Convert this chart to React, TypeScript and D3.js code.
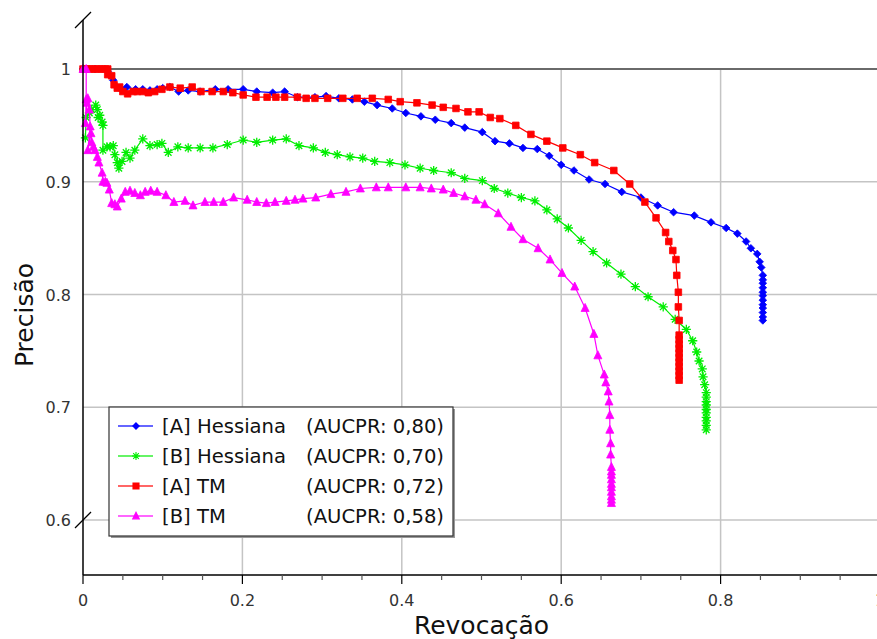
import React from 'react';
import * as d3 from 'd3';

type Pt = [number, number];

const xTickValues = [0, 0.2, 0.4, 0.6, 0.8, 1];
const xTickLabels = ['0', '0.2', '0.4', '0.6', '0.8', '1'];
const yTickValues = [1, 0.9, 0.8, 0.7, 0.6];
const yTickLabels = ['1', '0.9', '0.8', '0.7', '0.6'];
const xMinorTicks = d3.range(0, 21).map((i) => i * 0.05);

const seriesNames = ['[A] Hessiana', '[B] Hessiana', '[A] TM', '[B] TM'];
const seriesAuc = ['(AUCPR: 0,80)', '(AUCPR: 0,70)', '(AUCPR: 0,72)', '(AUCPR: 0,58)'];
const seriesColors = ['#0000ff', '#00ee00', '#ff0000', '#ff00ff'];
const seriesMarkers = ['diamond', 'asterisk', 'square', 'triangle'];

const hessianaA: Pt[] = [
  [0, 1], [0.015, 1], [0.031, 0.998], [0.038, 0.99], [0.046, 0.983], [0.055, 0.984], [0.066, 0.982],
  [0.075, 0.982], [0.084, 0.981], [0.093, 0.982], [0.1, 0.983], [0.109, 0.984], [0.12, 0.98],
  [0.132, 0.981], [0.147, 0.98], [0.166, 0.982], [0.182, 0.982], [0.201, 0.982], [0.218, 0.98],
  [0.238, 0.979], [0.253, 0.98], [0.269, 0.975], [0.291, 0.975], [0.305, 0.976], [0.321, 0.974],
  [0.338, 0.973], [0.353, 0.971], [0.369, 0.968], [0.388, 0.965], [0.405, 0.961], [0.424, 0.958],
  [0.442, 0.955], [0.462, 0.952], [0.479, 0.948], [0.501, 0.944], [0.517, 0.936], [0.535, 0.934],
  [0.552, 0.93], [0.57, 0.929], [0.585, 0.923], [0.6, 0.915], [0.616, 0.91], [0.635, 0.902],
  [0.655, 0.898], [0.676, 0.891], [0.7, 0.886], [0.721, 0.879], [0.741, 0.873], [0.767, 0.87],
  [0.788, 0.864], [0.807, 0.859], [0.821, 0.854], [0.832, 0.847], [0.838, 0.841], [0.846, 0.836],
  [0.849, 0.829], [0.851, 0.824], [0.853, 0.817], [0.853, 0.813], [0.853, 0.81], [0.853, 0.806],
  [0.853, 0.802], [0.853, 0.799], [0.853, 0.795], [0.853, 0.791], [0.853, 0.788], [0.853, 0.784],
  [0.853, 0.78], [0.853, 0.777],
];

const hessianaB: Pt[] = [
  [0.003, 0.939], [0.004, 0.957], [0.008, 0.961], [0.011, 0.964], [0.016, 0.968], [0.018, 0.964],
  [0.019, 0.957], [0.021, 0.959], [0.024, 0.953], [0.025, 0.95], [0.025, 0.928], [0.03, 0.931],
  [0.034, 0.931], [0.038, 0.932], [0.04, 0.924], [0.043, 0.917], [0.045, 0.912], [0.049, 0.918],
  [0.054, 0.926], [0.059, 0.921], [0.065, 0.928], [0.075, 0.938], [0.084, 0.932], [0.093, 0.933],
  [0.099, 0.934], [0.107, 0.926], [0.119, 0.931], [0.132, 0.93], [0.147, 0.93], [0.163, 0.93],
  [0.181, 0.933], [0.201, 0.937], [0.218, 0.935], [0.238, 0.937], [0.255, 0.938], [0.271, 0.932],
  [0.289, 0.93], [0.304, 0.926], [0.319, 0.924], [0.335, 0.922], [0.351, 0.921], [0.366, 0.918],
  [0.385, 0.917], [0.404, 0.915], [0.423, 0.912], [0.44, 0.91], [0.462, 0.908], [0.479, 0.903],
  [0.501, 0.901], [0.516, 0.894], [0.533, 0.89], [0.55, 0.886], [0.567, 0.883], [0.582, 0.875],
  [0.595, 0.867], [0.609, 0.859], [0.625, 0.848], [0.64, 0.838], [0.657, 0.828], [0.675, 0.818],
  [0.693, 0.807], [0.709, 0.798], [0.728, 0.789], [0.743, 0.778], [0.757, 0.769], [0.765, 0.759],
  [0.77, 0.749], [0.773, 0.741], [0.777, 0.734], [0.778, 0.727], [0.78, 0.72], [0.782, 0.713],
  [0.782, 0.709], [0.782, 0.705], [0.782, 0.702], [0.782, 0.698], [0.782, 0.695], [0.782, 0.691],
  [0.782, 0.688], [0.782, 0.684], [0.782, 0.68],
];

const tmA: Pt[] = [
  [0, 1], [0.004, 1], [0.008, 1], [0.012, 1], [0.016, 1], [0.02, 1], [0.024, 1], [0.028, 1], [0.031, 1],
  [0.031, 0.995], [0.036, 0.994], [0.039, 0.986], [0.043, 0.983], [0.046, 0.984], [0.05, 0.98],
  [0.056, 0.978], [0.063, 0.98], [0.068, 0.98], [0.075, 0.98], [0.082, 0.979], [0.09, 0.98],
  [0.099, 0.982], [0.109, 0.984], [0.122, 0.983], [0.137, 0.984], [0.148, 0.98], [0.162, 0.98],
  [0.176, 0.98], [0.188, 0.979], [0.201, 0.977], [0.217, 0.975], [0.231, 0.975], [0.242, 0.975],
  [0.253, 0.975], [0.269, 0.975], [0.28, 0.974], [0.291, 0.974], [0.307, 0.974], [0.326, 0.974],
  [0.344, 0.974], [0.363, 0.974], [0.383, 0.973], [0.398, 0.971], [0.419, 0.97], [0.438, 0.968],
  [0.452, 0.966], [0.468, 0.965], [0.483, 0.962], [0.497, 0.962], [0.511, 0.957], [0.523, 0.956],
  [0.543, 0.95], [0.562, 0.942], [0.582, 0.936], [0.602, 0.93], [0.624, 0.924], [0.642, 0.917],
  [0.666, 0.91], [0.686, 0.898], [0.705, 0.882], [0.719, 0.868], [0.731, 0.855], [0.735, 0.847],
  [0.74, 0.839], [0.744, 0.831], [0.745, 0.817], [0.747, 0.802], [0.747, 0.789], [0.748, 0.777],
  [0.748, 0.764], [0.748, 0.76], [0.748, 0.756], [0.748, 0.752], [0.748, 0.748], [0.748, 0.744],
  [0.748, 0.74], [0.748, 0.736], [0.748, 0.732], [0.748, 0.728], [0.748, 0.724],
];

const tmB: Pt[] = [
  [0, 1], [0.004, 1], [0.004, 0.973], [0.003, 0.952], [0.005, 0.97], [0.006, 0.974], [0.008, 0.964],
  [0.009, 0.949], [0.006, 0.928], [0.01, 0.943], [0.011, 0.935], [0.013, 0.931], [0.015, 0.928],
  [0.018, 0.922], [0.02, 0.917], [0.024, 0.908], [0.025, 0.9], [0.028, 0.9], [0.03, 0.899],
  [0.033, 0.893], [0.036, 0.881], [0.04, 0.88], [0.043, 0.878], [0.048, 0.885], [0.053, 0.891],
  [0.059, 0.892], [0.065, 0.89], [0.072, 0.888], [0.078, 0.891], [0.085, 0.892], [0.093, 0.891],
  [0.104, 0.888], [0.114, 0.882], [0.128, 0.883], [0.138, 0.879], [0.153, 0.882], [0.164, 0.882],
  [0.176, 0.882], [0.189, 0.886], [0.206, 0.884], [0.218, 0.882], [0.23, 0.881], [0.241, 0.882],
  [0.255, 0.883], [0.266, 0.884], [0.276, 0.885], [0.292, 0.886], [0.311, 0.889], [0.33, 0.891],
  [0.348, 0.894], [0.368, 0.895], [0.383, 0.895], [0.405, 0.895], [0.423, 0.895], [0.437, 0.894],
  [0.452, 0.893], [0.465, 0.89], [0.479, 0.887], [0.493, 0.884], [0.504, 0.88], [0.521, 0.872],
  [0.537, 0.86], [0.552, 0.849], [0.571, 0.841], [0.586, 0.831], [0.601, 0.819], [0.617, 0.807],
  [0.63, 0.788], [0.641, 0.765], [0.646, 0.746], [0.654, 0.729], [0.656, 0.722], [0.659, 0.714],
  [0.66, 0.705], [0.661, 0.693], [0.661, 0.68], [0.662, 0.668], [0.662, 0.658], [0.663, 0.647],
  [0.663, 0.643], [0.663, 0.64], [0.663, 0.636], [0.663, 0.632], [0.663, 0.629], [0.663, 0.625],
  [0.663, 0.621], [0.663, 0.618], [0.663, 0.615],
];

const allSeries = [hessianaA, hessianaB, tmA, tmB];

const W = 877;
const H = 639;
const FONT = '"DejaVu Sans", Verdana, sans-serif';

function markerPath(kind: string, s: number): string {
  if (kind === 'diamond') {
    return `M0,${-s}L${s},0L0,${s}L${-s},0Z`;
  }
  if (kind === 'square') {
    return `M${-s},${-s}H${s}V${s}H${-s}Z`;
  }
  if (kind === 'triangle') {
    const h = s * 1.15;
    return `M0,${-h}L${s},${h * 0.75}L${-s},${h * 0.75}Z`;
  }
  const d = s * 0.707;
  return `M${-s},0H${s}M0,${-s}V${s}M${-d},${-d}L${d},${d}M${-d},${d}L${d},${-d}`;
}

export default function App() {
  const x = d3.scaleLinear().domain([0, 1]).range([83, 880]);
  const y = d3.scaleLinear().domain([0.6, 1]).range([520, 69]);
  const axisY = 575;
  const axisTop = 20;
  const x0 = x(0);
  const line = d3
    .line<Pt>()
    .x((d) => x(d[0]))
    .y((d) => y(d[1]));

  const markerSize = [3.8, 4.6, 3.3, 4];
  const legendMarkerSize = [3.2, 4, 3, 3.3];

  const legX = 109;
  const legY = 407;
  const legW = 344;
  const legH = 129;
  const rowY = [426, 456, 486, 516];

  return (
    <svg
      width={W}
      height={H}
      style={{ position: 'absolute', left: 0, top: 0, background: '#fff' }}
      fontFamily={FONT}
    >
      <rect x={0} y={0} width={W} height={H} fill="#fff" />
      {xTickValues
        .filter((v) => v > 0)
        .map((v) => (
          <line key={'gx' + v} x1={x(v)} x2={x(v)} y1={y(1)} y2={axisY} stroke="#c4c4c4" strokeWidth={1.5} />
        ))}
      {yTickValues
        .filter((v) => v < 1)
        .map((v) => (
          <line key={'gy' + v} x1={x0} x2={W} y1={y(v)} y2={y(v)} stroke="#c4c4c4" strokeWidth={1.5} />
        ))}
      <line x1={x0} x2={W} y1={y(1)} y2={y(1)} stroke="#6a6a6a" strokeWidth={2} />

      {allSeries.map((data, i) => (
        <g key={'s' + i}>
          <path d={line(data) || ''} fill="none" stroke={seriesColors[i]} strokeWidth={1.2} />
          {data.map((d, j) => (
            <path
              key={j}
              transform={`translate(${x(d[0])},${y(d[1])})`}
              d={markerPath(seriesMarkers[i], markerSize[i])}
              fill={seriesMarkers[i] === 'asterisk' ? 'none' : seriesColors[i]}
              stroke={seriesColors[i]}
              strokeWidth={seriesMarkers[i] === 'asterisk' ? 1.3 : 0.8}
            />
          ))}
        </g>
      ))}

      <line x1={x0} x2={x0} y1={axisTop} y2={axisY} stroke="#000" strokeWidth={1.5} />
      <line x1={x0} x2={W} y1={axisY} y2={axisY} stroke="#000" strokeWidth={1.5} />
      <line x1={x0 - 8} x2={x0 + 8} y1={axisTop + 8} y2={axisTop - 8} stroke="#000" strokeWidth={1.2} />
      <line x1={x0 - 8} x2={x0 + 8} y1={y(0.6) + 8} y2={y(0.6) - 8} stroke="#000" strokeWidth={1.2} />
      {xMinorTicks.map((v, i) => {
        const major = i % 4 === 0;
        return (
          <line
            key={'t' + i}
            x1={x(v)}
            x2={x(v)}
            y1={axisY}
            y2={axisY + (major ? 9 : 5)}
            stroke={major ? '#000' : '#555'}
            strokeWidth={1.2}
          />
        );
      })}
      {xTickValues.map((v, i) => (
        <text key={'xl' + v} x={x(v)} y={606} textAnchor="middle" fontSize={16} fill="#333">
          {xTickLabels[i]}
        </text>
      ))}
      {yTickValues.map((v, i) => (
        <text key={'yl' + v} x={71} y={y(v) + 6} textAnchor="end" fontSize={16} fill="#333">
          {yTickLabels[i]}
        </text>
      ))}
      <text x={(x(0) + x(1)) / 2} y={634} textAnchor="middle" fontSize={25} fill="#111">
        Revocação
      </text>
      <text transform={`translate(33,315) rotate(-90)`} textAnchor="middle" fontSize={25} fill="#111">
        Precisão
      </text>

      <rect x={legX + 2} y={legY + 2} width={legW} height={legH} fill="#999" />
      <rect x={legX} y={legY} width={legW} height={legH} fill="#fff" stroke="#333" strokeWidth={1.2} />
      {seriesNames.map((name, i) => (
        <g key={'lg' + i}>
          <line x1={118} x2={153} y1={rowY[i]} y2={rowY[i]} stroke={seriesColors[i]} strokeWidth={1.3} strokeOpacity={0.8} />
          <path
            transform={`translate(136,${rowY[i]})`}
            d={markerPath(seriesMarkers[i], legendMarkerSize[i])}
            fill={seriesMarkers[i] === 'asterisk' ? 'none' : seriesColors[i]}
            stroke={seriesColors[i]}
            strokeWidth={1.1}
          />
          <text x={162} y={rowY[i] + 7} fontSize={19.6} fill="#111">
            {name}
          </text>
          <text x={306} y={rowY[i] + 7} fontSize={19.6} fill="#111">
            {seriesAuc[i]}
          </text>
        </g>
      ))}
    </svg>
  );
}
